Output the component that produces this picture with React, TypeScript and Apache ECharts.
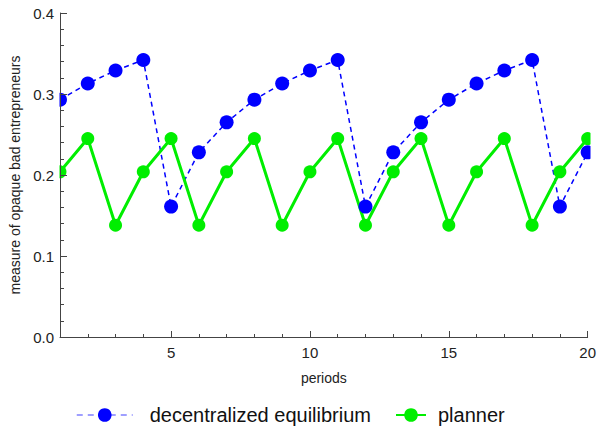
import React, { useEffect, useRef } from "react";
import * as echarts from "echarts";

const periods = [1, 2, 3, 4, 5, 6, 7, 8, 9, 10, 11, 12, 13, 14, 15, 16, 17, 18, 19, 20];
const decentralized = [0.293, 0.313, 0.329, 0.342, 0.161, 0.228, 0.265, 0.293, 0.313, 0.329, 0.342, 0.161, 0.228, 0.265, 0.293, 0.313, 0.329, 0.342, 0.161, 0.228];
const planner = [0.204, 0.245, 0.138, 0.204, 0.245, 0.138, 0.204, 0.245, 0.138, 0.204, 0.245, 0.138, 0.204, 0.245, 0.138, 0.204, 0.245, 0.138, 0.204, 0.245];
const xMajorTicks = [5, 10, 15, 20];
const seriesNames = ["decentralized equilibrium", "planner"];

const FONT = "'Liberation Sans', Arial, sans-serif";
const BLUE = "#0000ff";
const GREEN = "#00ee00";

export default function App() {
  const ref = useRef<HTMLDivElement>(null);
  useEffect(() => {
    if (!ref.current) return;
    const chart = echarts.init(ref.current, undefined, { renderer: "svg" });
    const axisColor = "#444";
    const gridLeft = 60;
    const gridRight = 9;
    const gridTop = 13;
    const gridBottom = 93;
    const W = 599;
    const H = 430;
    const blueData = periods.map((p, i) => [p, decentralized[i]]);
    const greenData = periods.map((p, i) => [p, planner[i]]);
    chart.setOption({
      animation: false,
      textStyle: { fontFamily: FONT },
      grid: { left: gridLeft, right: gridRight, top: gridTop, bottom: gridBottom, containLabel: false },
      xAxis: [
        {
          type: "value",
          min: 1,
          max: 20,
          interval: 1,
          position: "bottom",
          z: 10,
          name: "periods",
          nameLocation: "middle",
          nameGap: 34,
          nameTextStyle: { fontSize: 14, color: "#222", fontFamily: FONT },
          axisLine: { show: true, lineStyle: { color: axisColor, width: 1 } },
          axisTick: { show: true, inside: true, length: 3, lineStyle: { color: axisColor } },
          axisLabel: {
            show: true,
            fontSize: 15,
            color: "#222",
            margin: 8,
            formatter: (v: number) => (xMajorTicks.includes(v) ? String(v) : ""),
          },
          splitLine: { show: false },
        },
        {
          type: "value",
          min: 1,
          max: 20,
          position: "bottom",
          z: 10,
          axisLine: { show: false },
          axisTick: { show: true, inside: true, length: 6, customValues: xMajorTicks, lineStyle: { color: axisColor } },
          axisLabel: { show: false },
          splitLine: { show: false },
        },
      ],
      yAxis: {
        type: "value",
        min: 0,
        max: 0.4,
        interval: 0.1,
        z: 10,
        name: "measure of opaque bad entrepreneurs",
        nameLocation: "middle",
        nameGap: 38,
        nameTextStyle: { fontSize: 14, color: "#222", fontFamily: FONT },
        axisLine: { show: true, lineStyle: { color: axisColor, width: 1 } },
        axisTick: { show: true, inside: true, length: 7, lineStyle: { color: axisColor } },
        minorTick: { show: true, splitNumber: 5, length: 4, lineStyle: { color: axisColor } },
        axisLabel: { fontSize: 15, color: "#222", margin: 6, formatter: (v: number) => v.toFixed(1) },
        splitLine: { show: false },
      },
      graphic: [
        {
          type: "rect",
          z: 5,
          silent: true,
          shape: { x: 0, y: 0, width: gridLeft - 0.5, height: H - gridBottom + 2 },
          style: { fill: "#fff" },
        },
        {
          type: "rect",
          z: 5,
          silent: true,
          shape: { x: W - gridRight + 0.5, y: 0, width: gridRight, height: H - gridBottom - 4 },
          style: { fill: "#fff" },
        },
      ],
      legend: [
        {
          data: [seriesNames[0]],
          left: 76,
          top: 405,
          padding: 0,
          z: 6,
          itemWidth: 56,
          itemHeight: 17,
          textStyle: { fontSize: 20, color: "#111", fontFamily: FONT, padding: [0, 0, 0, 12] },
          lineStyle: { color: "rgba(0,0,255,0.5)", type: [6, 5], width: 1.5 },
        },
        {
          data: [seriesNames[1]],
          left: 395,
          top: 405,
          padding: 0,
          z: 6,
          itemWidth: 30,
          itemHeight: 17,
          textStyle: { fontSize: 20, color: "#111", fontFamily: FONT, padding: [0, 0, 0, 7] },
        },
      ],
      series: [
        {
          name: seriesNames[0],
          type: "line",
          data: blueData,
          symbol: "circle",
          showSymbol: false,
          symbolSize: 14,
          itemStyle: { color: BLUE },
          lineStyle: { color: BLUE, width: 1.5, type: [5, 4] },
          z: 2,
        },
        {
          name: seriesNames[1],
          type: "line",
          data: greenData,
          symbol: "circle",
          showSymbol: false,
          symbolSize: 13,
          itemStyle: { color: GREEN },
          lineStyle: { color: GREEN, width: 3 },
          z: 2,
        },
        {
          name: seriesNames[0] + " points",
          type: "scatter",
          data: blueData,
          symbol: "circle",
          symbolSize: 14,
          itemStyle: { color: BLUE, opacity: 1 },
          clip: false,
          z: 3,
        },
        {
          name: seriesNames[1] + " points",
          type: "scatter",
          data: greenData,
          symbol: "circle",
          symbolSize: 13,
          itemStyle: { color: GREEN, opacity: 1 },
          clip: false,
          z: 3,
        },
      ],
    });
    return () => chart.dispose();
  }, []);
  return <div ref={ref} style={{ width: 599, height: 430, position: "absolute", left: 0, top: 0 }} />;
}
